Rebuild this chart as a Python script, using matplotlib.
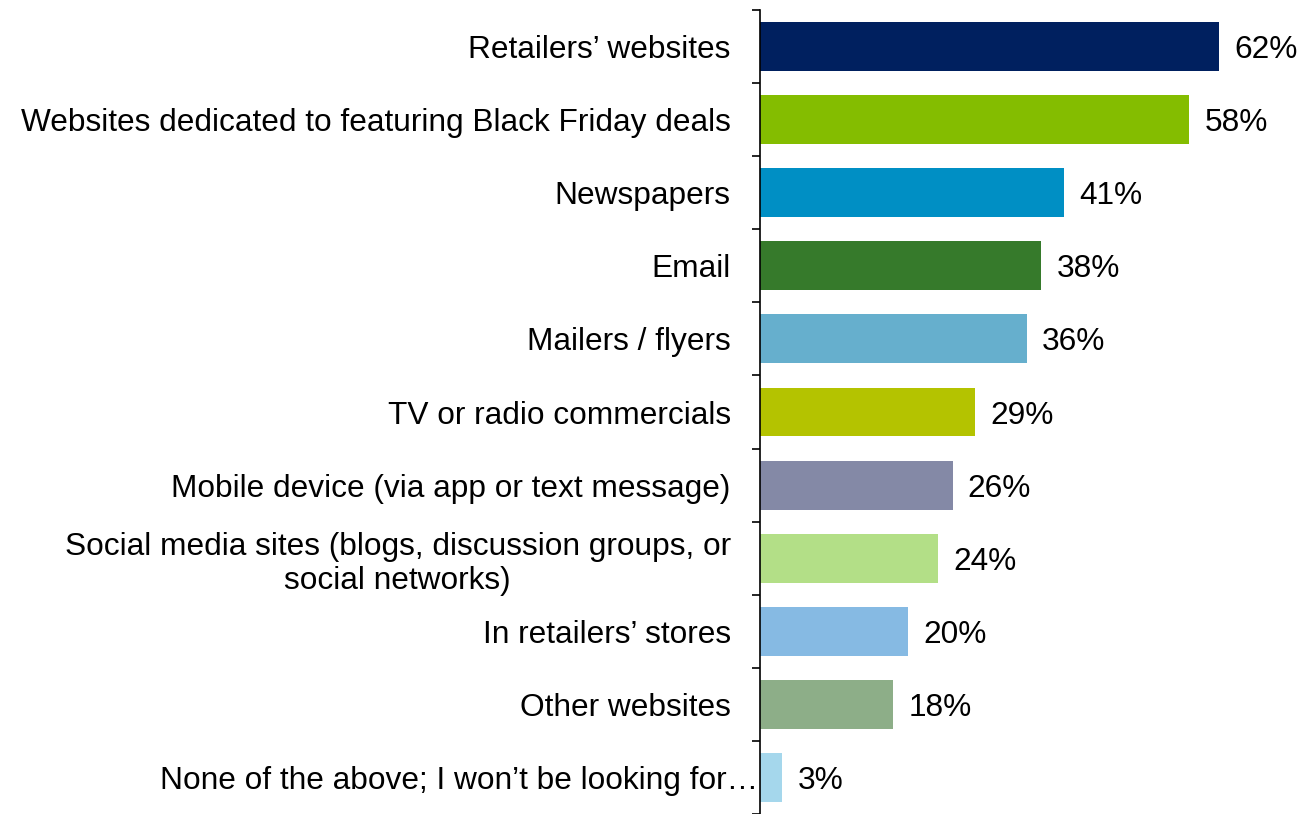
import matplotlib
matplotlib.use("Agg")
import matplotlib.pyplot as plt
import matplotlib.transforms as mtransforms
import numpy as np

categories = [
    "Retailers\u2019 websites",
    "Websites dedicated to featuring Black Friday deals",
    "Newspapers",
    "Email",
    "Mailers / flyers",
    "TV or radio commercials",
    "Mobile device (via app or text message)",
    "Social media sites (blogs, discussion groups, or\nsocial networks)",
    "In retailers\u2019 stores",
    "Other websites",
    "None of the above; I won\u2019t be looking for\u2026",
]
values = [62, 58, 41, 38, 36, 29, 26, 24, 20, 18, 3]
colors = [
    "#00205F", "#84BD00", "#008FC4", "#367A2B", "#66AFCD", "#B4C300",
    "#8489A6", "#B3DF87", "#86BAE3", "#8DAE88", "#A5D7EC",
]

plt.rcParams["font.family"] = ["Liberation Sans", "DejaVu Sans"]

fig = plt.figure(figsize=(13.02, 8.14), dpi=100)
ax = fig.add_axes([760 / 1302, 0.0, 1 - 760 / 1302, 1 - 10 / 814])

n = len(categories)
y = np.arange(n)
ax.barh(y, values, height=0.67, color=colors)
ax.set_ylim(n - 0.5, -0.5)
ax.set_xlim(0, 73.2)

for yi, v in zip(y, values):
    ax.annotate(f"{v}%", xy=(v, yi), xytext=(11, 0), textcoords="offset points",
                ha="left", va="center_baseline", fontsize=22.8, color="black")

# Category labels, right-aligned against the axis; the truncated last
# label runs right up to the axis line.
label_pad = [-21] * (n - 1) + [-1]
trans = ax.get_yaxis_transform()
for yi, text, pad in zip(y, categories, label_pad):
    ax.annotate(text, xy=(0, yi), xycoords=trans, xytext=(pad, 0),
                textcoords="offset points", ha="right", va="center_baseline",
                multialignment="center", linespacing=1.2,
                fontsize=22.8, color="black", annotation_clip=False)

ax.set_yticks(y)
ax.set_yticklabels([])
ax.tick_params(axis="y", which="major", length=0)
ax.set_yticks(np.arange(n + 1) - 0.5, minor=True)
ax.tick_params(axis="y", which="minor", length=6, width=1.2, direction="out", color="black")

ax.set_xticks([])
for s in ("top", "right", "bottom"):
    ax.spines[s].set_visible(False)
ax.spines["left"].set_linewidth(1.2)
ax.spines["left"].set_color("black")

fig.savefig("out.png", dpi=100)
